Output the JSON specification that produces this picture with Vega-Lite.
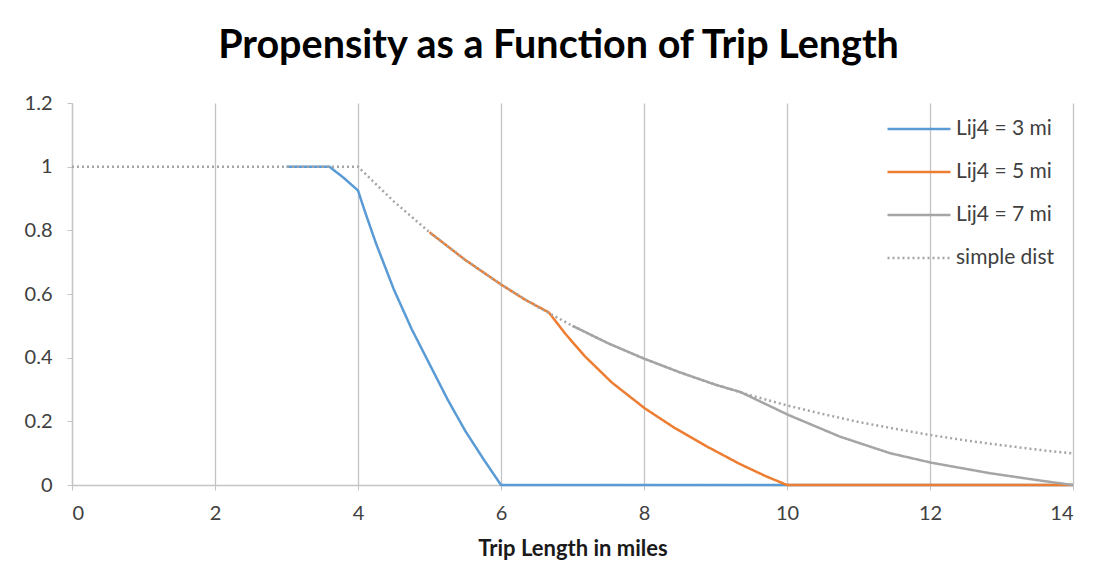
{
  "$schema": "https://vega.github.io/schema/vega-lite/v6.json",
  "autosize": {"type": "none"},
  "width": 1001,
  "height": 382,
  "padding": {"left": 72, "top": 103, "right": 29, "bottom": 101},
  "background": "white",
  "title": {
    "text": "Propensity as a Function of Trip Length",
    "font": "Lato",
    "fontSize": 39.5,
    "fontWeight": "bold",
    "color": "#000000",
    "anchor": "middle",
    "baseline": "alphabetic",
    "offset": -4,
    "dx": -14
  },
  "config": {
    "view": {"stroke": null},
    "font": "Lato",
    "legend": {
      "symbolType": "stroke",
      "symbolSize": 3969,
      "symbolStrokeWidth": 2.5,
      "labelFontSize": 21,
      "labelColor": "#404040",
      "labelFont": "Lato",
      "rowPadding": -20,
      "labelOffset": 4
    }
  },
  "data": {
    "values": [
      {"series": "Lij4 = 3 mi", "x": 3, "y": 1},
      {"series": "Lij4 = 3 mi", "x": 3.6, "y": 1},
      {"series": "Lij4 = 3 mi", "x": 3.8, "y": 0.965},
      {"series": "Lij4 = 3 mi", "x": 4.0, "y": 0.925},
      {"series": "Lij4 = 3 mi", "x": 4.1, "y": 0.857},
      {"series": "Lij4 = 3 mi", "x": 4.25, "y": 0.76},
      {"series": "Lij4 = 3 mi", "x": 4.5, "y": 0.615},
      {"series": "Lij4 = 3 mi", "x": 4.75, "y": 0.49},
      {"series": "Lij4 = 3 mi", "x": 5, "y": 0.38},
      {"series": "Lij4 = 3 mi", "x": 5.25, "y": 0.27},
      {"series": "Lij4 = 3 mi", "x": 5.5, "y": 0.17},
      {"series": "Lij4 = 3 mi", "x": 5.75, "y": 0.083},
      {"series": "Lij4 = 3 mi", "x": 6, "y": 0},
      {"series": "Lij4 = 3 mi", "x": 14, "y": 0},
      {"series": "Lij4 = 5 mi", "x": 5, "y": 0.794},
      {"series": "Lij4 = 5 mi", "x": 5.5, "y": 0.707},
      {"series": "Lij4 = 5 mi", "x": 6, "y": 0.63},
      {"series": "Lij4 = 5 mi", "x": 6.33, "y": 0.583},
      {"series": "Lij4 = 5 mi", "x": 6.67, "y": 0.542},
      {"series": "Lij4 = 5 mi", "x": 6.9, "y": 0.475},
      {"series": "Lij4 = 5 mi", "x": 7.17, "y": 0.405},
      {"series": "Lij4 = 5 mi", "x": 7.55, "y": 0.322},
      {"series": "Lij4 = 5 mi", "x": 8.01, "y": 0.241},
      {"series": "Lij4 = 5 mi", "x": 8.43, "y": 0.179},
      {"series": "Lij4 = 5 mi", "x": 8.88, "y": 0.121},
      {"series": "Lij4 = 5 mi", "x": 9.34, "y": 0.066},
      {"series": "Lij4 = 5 mi", "x": 9.7, "y": 0.028},
      {"series": "Lij4 = 5 mi", "x": 10, "y": 0},
      {"series": "Lij4 = 5 mi", "x": 14, "y": 0},
      {"series": "Lij4 = 7 mi", "x": 7, "y": 0.5},
      {"series": "Lij4 = 7 mi", "x": 7.5, "y": 0.445},
      {"series": "Lij4 = 7 mi", "x": 8, "y": 0.397},
      {"series": "Lij4 = 7 mi", "x": 8.5, "y": 0.354},
      {"series": "Lij4 = 7 mi", "x": 9, "y": 0.315},
      {"series": "Lij4 = 7 mi", "x": 9.35, "y": 0.292},
      {"series": "Lij4 = 7 mi", "x": 10.02, "y": 0.22},
      {"series": "Lij4 = 7 mi", "x": 10.74, "y": 0.152},
      {"series": "Lij4 = 7 mi", "x": 11.44, "y": 0.1},
      {"series": "Lij4 = 7 mi", "x": 12.02, "y": 0.07},
      {"series": "Lij4 = 7 mi", "x": 12.84, "y": 0.037},
      {"series": "Lij4 = 7 mi", "x": 13.54, "y": 0.014},
      {"series": "Lij4 = 7 mi", "x": 14, "y": 0},
      {"series": "simple dist", "x": 0, "y": 1},
      {"series": "simple dist", "x": 4, "y": 1},
      {"series": "simple dist", "x": 4.5, "y": 0.891},
      {"series": "simple dist", "x": 5, "y": 0.794},
      {"series": "simple dist", "x": 5.5, "y": 0.707},
      {"series": "simple dist", "x": 6, "y": 0.63},
      {"series": "simple dist", "x": 6.5, "y": 0.561},
      {"series": "simple dist", "x": 7, "y": 0.5},
      {"series": "simple dist", "x": 7.5, "y": 0.445},
      {"series": "simple dist", "x": 8, "y": 0.397},
      {"series": "simple dist", "x": 8.5, "y": 0.354},
      {"series": "simple dist", "x": 9, "y": 0.315},
      {"series": "simple dist", "x": 9.5, "y": 0.281},
      {"series": "simple dist", "x": 10, "y": 0.25},
      {"series": "simple dist", "x": 10.5, "y": 0.223},
      {"series": "simple dist", "x": 11, "y": 0.198},
      {"series": "simple dist", "x": 11.5, "y": 0.177},
      {"series": "simple dist", "x": 12, "y": 0.157},
      {"series": "simple dist", "x": 12.5, "y": 0.14},
      {"series": "simple dist", "x": 13, "y": 0.125},
      {"series": "simple dist", "x": 13.5, "y": 0.111},
      {"series": "simple dist", "x": 14, "y": 0.099}
    ]
  },
  "mark": {"type": "line", "strokeWidth": 2.5, "clip": false},
  "encoding": {
    "x": {
      "field": "x",
      "type": "quantitative",
      "scale": {"domain": [0, 14], "nice": false, "zero": false},
      "axis": {
        "title": "Trip Length in miles",
        "values": [0, 2, 4, 6, 8, 10, 12, 14],
        "grid": true,
        "gridColor": "#C4C4C4",
        "gridWidth": 1.3,
        "domainColor": "#C4C4C4",
        "domainWidth": 1.3,
        "tickColor": "#C4C4C4",
        "tickSize": 5,
        "labelFontSize": 20,
        "labelColor": "#404040",
        "labelPadding": 13,
        "titleFontSize": 22,
        "titleFontWeight": "bold",
        "titleColor": "#1a1a1a",
        "titlePadding": 15
      }
    },
    "y": {
      "field": "y",
      "type": "quantitative",
      "scale": {"domain": [0, 1.2], "nice": false},
      "axis": {
        "title": null,
        "values": [0, 0.2, 0.4, 0.6, 0.8, 1, 1.2],
        "format": "~g",
        "grid": false,
        "domainColor": "#C4C4C4",
        "domainWidth": 1.3,
        "tickColor": "#C4C4C4",
        "tickSize": 5,
        "labelFontSize": 20,
        "labelColor": "#404040",
        "labelPadding": 15
      }
    },
    "color": {
      "field": "series",
      "type": "nominal",
      "scale": {
        "domain": ["Lij4 = 3 mi", "Lij4 = 5 mi", "Lij4 = 7 mi", "simple dist"],
        "range": ["#5B9BD5", "#ED7D31", "#A5A5A5", "#A5A5A5"]
      },
      "legend": {"title": null, "orient": "none", "legendX": 814, "legendY": -7}
    },
    "strokeDash": {
      "field": "series",
      "type": "nominal",
      "scale": {
        "domain": ["Lij4 = 3 mi", "Lij4 = 5 mi", "Lij4 = 7 mi", "simple dist"],
        "range": [[1, 0], [1, 0], [1, 0], [2, 3]]
      },
      "legend": {"title": null, "orient": "none", "legendX": 814, "legendY": -7}
    }
  }
}
